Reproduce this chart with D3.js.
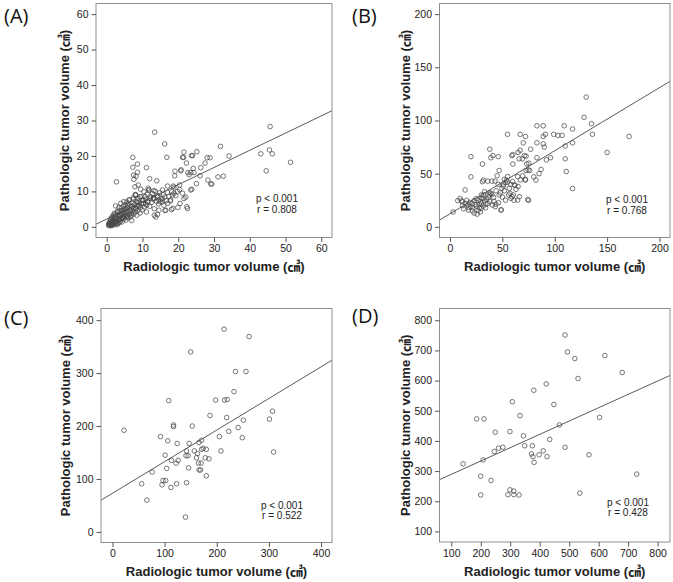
<!DOCTYPE html>
<html><head><meta charset="utf-8">
<script src="https://cdn.jsdelivr.net/npm/d3@7"></script>
<style>body{margin:0;background:#fff}svg{display:block}</style>
</head><body>
<svg id="c" width="673" height="582"></svg>
<script>
// ---------- data ----------
const ptsA = [
[0.5,0.4],[0.6,0.9],[0.7,0.5],[0.8,1.4],[0.9,0.7],[1.0,0.3],[1.0,1.1],[1.1,2.0],[1.2,0.6],[1.3,1.3],[1.4,0.4],[1.4,2.6],[1.5,0.9],[1.6,1.6],[1.7,0.5],[1.8,1.1],[1.8,3.2],[1.9,2.1],[2.0,0.7],[2.1,1.4],[2.2,2.7],[2.3,0.9],[2.4,1.8],[2.5,3.6],[2.6,1.2],[2.7,0.6],[2.8,2.3],[2.9,1.6],[3.0,4.1],[3.1,0.9],[3.2,2.9],[3.3,1.9],[3.4,3.5],[3.5,1.2],[3.6,2.4],[3.7,4.6],[3.8,1.6],[3.9,3.0],[4.0,2.1],[4.1,5.3],[4.2,3.7],[4.3,1.4],[4.4,2.7],[4.5,4.2],[4.6,3.2],[4.7,5.8],[4.8,2.3],[4.9,3.9],
[3.9,6.6],[3.4,5.5],[2.5,5.9],[3.0,4.3],[2.1,3.8],[3.7,3.3],[1.6,2.8],[2.5,2.4],[3.4,1.9],[4.4,2.4],[1.1,1.9],[2.1,1.4],[3.0,0.9],[0.7,0.9],
[5.0,4.9],[5.1,2.9],[5.2,6.2],[5.3,3.6],[5.4,1.9],[5.5,4.4],[5.6,7.0],[5.7,3.1],[5.8,5.4],[5.9,2.5],[6.0,4.0],[6.2,6.5],[6.3,3.4],[6.4,7.6],[6.5,4.8],[6.7,2.8],[6.8,5.9],[6.9,3.8],[7.0,1.8],[7.1,6.8],[7.2,4.5],[7.4,8.2],[7.5,5.3],[7.6,3.6],[7.8,6.3],[7.9,4.2],[8.0,9.1],[8.1,5.0],[8.3,7.2],[8.4,3.3],[8.5,5.8],[8.7,4.6],[8.8,8.0],[9.0,6.1],[9.1,7.0],[9.3,3.9],[9.4,5.4],[9.6,8.5],[9.7,6.6],[9.9,4.8],
[6.2,7.6],[5.8,6.1],[4.8,7.1],[5.3,5.2],[4.4,4.7],[6.5,4.3],[6.9,3.3],[5.8,2.8],[8.1,9.0],[7.5,7.8],[8.6,6.8],[7.2,5.7],[8.1,5.2],[9.0,5.9],[9.3,8.5],[10.0,7.6],[10.9,7.8],[11.4,7.1],[10.3,6.6],[11.2,6.1],[9.5,10.6],[7.9,11.3],
[10.2,7.4],[10.4,9.9],[10.5,5.6],[10.7,8.6],[10.9,6.4],[11.1,4.2],[11.3,9.2],[11.5,7.0],[11.8,10.4],[12.0,5.8],[12.2,8.1],[12.5,6.9],[12.8,9.4],[13.0,7.8],[13.1,8.2],[13.3,5.1],[13.6,10.0],[13.9,7.2],[14.2,8.8],[14.5,6.5],[14.8,9.6],[15.2,8.0],[15.5,7.0],[15.8,9.1],[16.2,8.4],[16.6,7.4],[17.0,9.7],[17.4,8.6],[17.8,7.3],[18.2,9.9],[18.6,11.5],[18.8,11.2],[19.3,8.8],[19.8,10.0],
[11.6,10.9],[13.2,10.2],[15.6,10.4],[17.0,11.5],[18.4,9.0],[18.8,9.5],[20.4,11.8],[20.7,15.8],[21.2,9.5],[21.6,8.0],[20.5,6.6],[23.0,14.7],[23.5,15.3],[22.4,5.7],[22.6,5.2],[18.1,4.9],[16.5,4.7],[14.2,3.5],[13.7,2.8],[14.6,4.7],[16.0,6.1],[17.0,6.6],[17.9,7.6],[15.6,7.8],[14.9,7.1],[12.3,8.5],[13.2,8.0],[14.2,8.3],[14.6,7.6],[11.8,10.4],[8.1,9.0],
[2.7,12.7],[7.3,19.6],[7.3,16.8],[8.6,17.7],[7.5,14.6],[7.6,13.4],[8.2,14.3],[8.6,15.4],[8.8,11.8],[11.1,16.7],[12.0,13.6],[13.4,26.7],[14.0,13.0],[16.2,23.4],[16.8,19.6],[19.1,15.7],[19.0,14.4],[21.2,19.6],[21.5,19.6],[21.6,21.1],[20.8,16.1],[22.3,18.0],[22.7,15.3],[23.7,20.1],[24.0,20.1],[25.2,21.2],[24.2,16.5],[24.4,15.3],[26.1,14.4],[26.3,16.7],[27.5,18.0],[28.1,19.5],[28.9,19.5],[31.8,22.7],[34.2,20.0],[31.1,14.1],[32.6,14.3],[28.3,13.2],[29.1,12.1],[29.4,12.1],[23.5,10.4],[23.8,10.6],[25.1,12.2],[22.1,8.4],[20.4,10.5],[19.9,5.5],[18.5,5.2],[16.3,4.6],[13.3,3.3],[43.1,20.6],[45.7,28.3],[45.5,21.7],[46.3,20.6],[44.6,15.8],[51.4,18.2]
];
const ptsB = [
[3,14],[7.4,24.6],[9.6,26.8],[10.9,24.6],[11.8,23.6],[14.4,34.7],[15,22],[17,20.5],[17.6,15.8],[19.8,19],[20,66],[20,47],[21.4,15],[21.4,22],[23,24.6],[25,26.5],[25.3,19.5],[26.9,15.5],[26,12],[27.8,21.4],[29.1,23.6],[29.8,17.3],[30.4,26.8],[31,59],[31.7,19.5],[33,24.6],[33,33.1],[34.2,21.4],[36.2,22],[36.8,27.7],[37.4,30],[38,73],[38,32.1],[39,65],[39,31.5],[40,30.3],[40.6,20.5],[41,67],[41.6,27.7],[43.2,19],[43.8,21.4],[46,66],[46.4,22.7],[48.6,15.8],[47,30],[49.6,36.2],[50.9,38.4],[52.8,41.6],[51.8,44.7],[54,44],[55,47.3],[55,87],[56.6,36.2],[57.3,31.5],[58.2,26.8],[59.2,28.4],[60.5,30],[59.8,42.6],[61.4,39.4],[63,35.3],[64.6,25.2],[66.2,28.4],[64.6,47.3],[67.2,44.1],[69.4,47.9],[72,44.7],[74.2,25.8],[72.6,53],[73.3,59.2],[74.6,53.6],[75.2,59.9],
[31,42.5],[32,44],[36,43],[40,43],[43,43],[45,48],[47,53],[49,16],[61,25],[62,39],[65,38],[67,87],[72,85],[70,79],[67,72],[77,73],[71,67],[72.6,66.5],[66,64],[65,70],[60,68],[59,67],[60,59],[69,64],[83,95],[89,95],[83,79],[89,85],[91,87],[89,78],[90,75],[83,65],[99,87],[103,86],[107,86],[109,95],[117,92],[110,76],[117,79],[110,64],[111,52],[117,36],[130,122],[128,103],[135,97],[136,87],[150,70],[171,85],[96,65],[92,63],[87,54],[85,50],[82,44],[80,47],[76,53],[72,44],[75,25],
[12,20],[13,17],[16,25],[18,18],[19,23],[22,18],[23,13],[24,21],[27,25],[28,18],[29,14],[30,22],[32,27],[34,18],[35,26],[38,24],[42,24],[44,34],[46,40],[48,32],[50,28],[52,34],[53,25],[56,30],[58,40],[51,40],[55,42],[30,30],[32,30]
];
const ptsC = [
[22,192],[56,91],[66,60],[76,113],[92,180],[95,89],[97,97],[102,97],[101,145],[104,120],[106,172],[108,248],[112,84],[113,135],[117,202],[117,199],[122,130],[123,91],[124,167],[126,135],[142,93],[140,28],[141,144],[145,144],[142,153],[146,121],[147,167],[150,340],[153,200],[157,153],[161,140],[163,148],[165,130],[166,169],[166,117],[169,117],[170,130],[171,173],[171,156],[174,158],[178,140],[180,156],[180,106],[185,138],[187,220],[198,249],[205,180],[208,153],[214,383],[215,249],[220,250],[219,216],[223,190],[233,265],[236,303],[241,197],[249,178],[251,211],[256,303],[262,369],[301,213],[307,228],[309,151]
];
const ptsD = [
[140,324],[186,473],[211,473],[200,283],[200,221],[208,337],[235,269],[246,365],[249,429],[260,376],[275,379],[299,238],[312,234],[292,222],[312,222],[330,221],[299,431],[307,530],[333,484],[345,417],[349,384],[372,357],[375,384],[377,348],[381,329],[380,568],[398,354],[412,367],[422,589],[425,348],[434,405],[448,521],[467,453],[486,751],[486,379],[494,695],[519,673],[530,607],[536,227],[567,354],[603,478],[621,683],[680,627],[729,290]
];
const ticksA = [0,10,20,30,40,50,60];
const ticksB = [0,50,100,150,200];
const ticksC = [0,100,200,300,400];
const ticksD = [100,200,300,400,500,600,700,800];
const fitA = [2.2, 0.485];   // [intercept, slope]
const fitB = [12.3, 0.593];
const fitC = [73, 0.597];
const fitD = [245, 0.442];
const statsA = ["p < 0.001", "r = 0.808"];
const statsB = ["p < 0.001", "r = 0.768"];
const statsC = ["p < 0.001", "r = 0.522"];
const statsD = ["p < 0.001", "r = 0.428"];
const labels = ["(A)", "(B)", "(C)", "(D)"];
const xTitle = "Radiologic tumor volume (㎤)";
const yTitle = "Pathologic tumor volume (㎤)";

// ---------- layout ----------
const panels = [
  {label:labels[0], box:[96,3.5,332,237.5], xd:[-3,63], yd:[-3,63], pts:ptsA, xt:ticksA, yt:ticksA, fit:fitA, stats:statsA, lab:[4,22.5], st:[277,202], yT:68.5},
  {label:labels[1], box:[439.5,3.5,670,237.5], xd:[-10,210], yd:[-10,210], pts:ptsB, xt:ticksB, yt:ticksB, fit:fitB, stats:statsB, lab:[352,22.5], st:[627,203], yT:409.5},
  {label:labels[2], box:[101,308.5,332,542.5], xd:[-22,421], yd:[-20,422], pts:ptsC, xt:ticksC, yt:ticksC, fit:fitC, stats:statsC, lab:[4,325], st:[282,508.5], yT:70},
  {label:labels[3], box:[439.5,308.5,670,542], xd:[60,842], yd:[65,839], pts:ptsD, xt:ticksD, yt:ticksD, fit:fitD, stats:statsD, lab:[352,323], st:[628,505.5], yT:409.5}
];

const svg = d3.select("#c");
const FONT = "'Liberation Sans', Arial, 'Noto Sans CJK KR', sans-serif";

panels.forEach((p, i) => {
  const [x0, y0, x1, y1] = p.box;
  const x = d3.scaleLinear().domain(p.xd).range([x0, x1]);
  const y = d3.scaleLinear().domain(p.yd).range([y1, y0]);
  const g = svg.append("g");
  const cid = "clip" + i;
  svg.append("clipPath").attr("id", cid).append("rect")
    .attr("x", x0).attr("y", y0).attr("width", x1 - x0).attr("height", y1 - y0);

  // fit line
  const line = d3.line().x(d => x(d)).y(d => y(p.fit[0] + p.fit[1] * d));
  g.append("path").attr("clip-path", `url(#${cid})`)
    .attr("d", line(p.xd)).attr("fill", "none").attr("stroke", "#5a5a5a").attr("stroke-width", 1);

  // points
  g.append("g").attr("clip-path", `url(#${cid})`).selectAll("circle").data(p.pts).join("circle")
    .attr("cx", d => x(d[0])).attr("cy", d => y(d[1])).attr("r", 2.3)
    .attr("fill", "none").attr("stroke", "#4a4a4a").attr("stroke-width", 0.75);

  // frame
  g.append("rect").attr("x", x0).attr("y", y0).attr("width", x1 - x0).attr("height", y1 - y0)
    .attr("fill", "none").attr("stroke", "#8f8f8f").attr("stroke-width", 1);

  // axes
  const ax = g.append("g").attr("transform", `translate(0,${y1})`)
    .call(d3.axisBottom(x).tickValues(p.xt).tickSize(4.5).tickPadding(3).tickFormat(d3.format("d")));
  const ay = g.append("g").attr("transform", `translate(${x0},0)`)
    .call(d3.axisLeft(y).tickValues(p.yt).tickSize(4.5).tickPadding(3).tickFormat(d3.format("d")));
  [ax, ay].forEach(a => {
    a.select(".domain").remove();
    a.selectAll("line").attr("stroke", "#555");
    a.selectAll("text").attr("font-family", FONT).attr("font-size", 10.5).attr("fill", "#222");
  });

  // titles
  g.append("text").attr("x", (x0 + x1) / 2).attr("y", y1 + 33.5)
    .attr("text-anchor", "middle").attr("font-family", FONT).attr("font-weight", "bold")
    .attr("font-size", 13).attr("fill", "#222").text(xTitle);
  g.append("text").attr("transform", `translate(${p.yT},${(y0 + y1) / 2}) rotate(-90)`)
    .attr("text-anchor", "middle").attr("font-family", FONT).attr("font-weight", "bold")
    .attr("font-size", 13).attr("fill", "#222").text(yTitle);

  // stats
  p.stats.forEach((s, k) => {
    g.append("text").attr("x", p.st[0]).attr("y", p.st[1] + k * 10.5)
      .attr("text-anchor", "middle").attr("font-family", FONT)
      .attr("font-size", 10).attr("fill", "#222").text(s);
  });

  // panel label
  g.append("text").attr("x", p.lab[0]).attr("y", p.lab[1])
    .attr("font-family", "'Open Sans', 'Noto Sans', sans-serif").attr("font-size", 20)
    .attr("fill", "#111").text(p.label);
});
</script>
</body></html>
